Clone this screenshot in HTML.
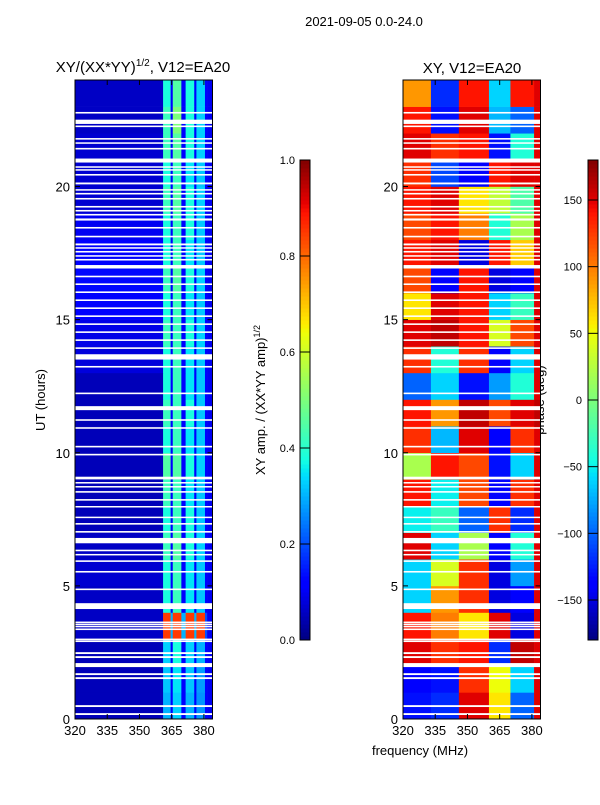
<!DOCTYPE html>
<html><head><meta charset="utf-8"><style>
body{margin:0;background:#fff;}
svg text{font-family:"Liberation Sans",sans-serif;fill:#000;}
</style></head><body>
<svg id="fig" width="600" height="800" xmlns="http://www.w3.org/2000/svg">
<rect width="600" height="800" fill="#fff"/>
<text x="364" y="26" font-size="13" text-anchor="middle">2021-09-05 0.0-24.0</text>
<text x="143" y="72" font-size="15" text-anchor="middle">XY/(XX*YY)<tspan font-size="10" dy="-6">1/2</tspan><tspan dy="6">, V12=EA20</tspan></text>
<text x="472" y="73" font-size="15" text-anchor="middle">XY, V12=EA20</text>
<text transform="translate(45,400) rotate(-90)" font-size="13" text-anchor="middle">UT (hours)</text>
<text x="420" y="755" font-size="13" text-anchor="middle">frequency (MHz)</text>
<text transform="translate(265,400) rotate(-90)" font-size="13" text-anchor="middle">XY amp. / (XX*YY amp)<tspan font-size="9" dy="-5">1/2</tspan></text>
<text transform="translate(544,400) rotate(-90)" font-size="13" text-anchor="middle">phase (deg)</text>
<g id="left"></g>
<g id="right"></g>
<g id="axes"></g>
</svg>
<script>
const ampBandEdges=[320,361,364.5,365.5,369.5,371.5,375.5,376.5,380.5,381.5,384];
const phaseBandEdges=[320,333,346,360,370,381,384];
const amp=[
[.05,.3,.12,.33,.12,.3,.12,.27,.12,.1],
[.05,.32,.12,.35,.12,.32,.12,.28,.12,.1],
[.05,.33,.12,.38,.12,.33,.12,.3,.12,.1],
[.06,.85,.3,.85,.3,.85,.3,.85,.2,.1],
[.06,.38,.12,.42,.12,.35,.12,.32,.12,.1],
[.07,.38,.12,.42,.12,.35,.12,.32,.12,.1],
[.06,.42,.12,.45,.12,.38,.12,.33,.12,.1],
[.05,.38,.12,.42,.12,.38,.12,.32,.12,.1],
[.05,.42,.12,.42,.12,.35,.12,.32,.12,.1],
[.05,.45,.12,.45,.12,.38,.12,.33,.12,.1],
[.05,.38,.12,.42,.12,.35,.12,.32,.12,.1],
[.05,.42,.12,.42,.12,.38,.12,.32,.12,.1],
[.05,.38,.12,.42,.12,.35,.12,.32,.12,.1],
[.08,.38,.12,.42,.12,.35,.12,.32,.12,.1],
[.09,.42,.12,.42,.12,.38,.12,.33,.12,.1],
[.12,.38,.12,.42,.12,.35,.12,.32,.12,.1],
[.13,.42,.12,.45,.12,.38,.12,.33,.12,.1],
[.12,.38,.12,.42,.12,.35,.12,.32,.12,.1],
[.1,.38,.12,.42,.12,.38,.12,.32,.12,.1],
[.07,.42,.12,.45,.12,.38,.12,.33,.12,.1],
[.07,.38,.12,.42,.12,.35,.12,.32,.12,.1],
[.07,.42,.12,.45,.12,.38,.12,.33,.12,.1],
[.06,.42,.12,.5,.12,.38,.12,.33,.12,.1],
[.06,.38,.12,.45,.12,.38,.12,.33,.12,.1]];
const phase=[
[-130,-120,150,60,-100,150],[-140,-130,130,50,-60,150],[150,130,140,-120,160,150],
[140,100,60,150,-150,150],[-60,90,130,-150,-140,150],[-60,40,130,-150,-80,150],
[150,-60,20,-140,-40,150],[-50,-30,-100,130,-120,150],[140,-50,120,-140,130,150],
[20,140,120,-130,-60,150],[130,-70,150,-140,130,150],[140,90,160,120,150,160],
[-100,-60,-130,-80,-40,150],[130,-40,130,-140,-60,150],[150,160,140,40,120,150],
[60,150,140,-60,-30,150],[120,-140,140,-150,-140,150],[140,150,-150,140,70,150],
[120,140,100,-40,20,150],[140,150,60,30,-20,150],[130,-110,-140,140,150,150],
[150,130,140,-130,-40,150],[140,-130,150,-70,-100,150],[90,-120,140,-60,140,150]];
const flags=[[0.15,0.22],[0.45,0.52],[1.5,1.57],[1.65,1.72],[1.95,2.1],[2.29,2.36],[2.44,2.51],[2.89,2.95],[2.96,3.02],[3.34,3.4],[3.45,3.5],[3.53,3.58],[3.6,3.66],[4.13,4.35],[4.84,4.9],[5.5,5.56],[5.9,5.96],[6.15,6.2],[6.3,6.36],[6.6,6.8],[7.0,7.06],[7.3,7.36],[7.55,7.6],[7.95,8.0],[8.2,8.26],[8.5,8.56],[8.7,8.75],[8.85,8.9],[9.0,9.1],[9.9,9.96],[10.2,10.26],[10.9,10.96],[11.2,11.26],[11.6,11.75],[12.2,12.26],[13.2,13.26],[13.5,13.7],[13.9,13.96],[14.2,14.26],[14.5,14.56],[14.8,14.86],[15.1,15.16],[15.4,15.46],[15.7,15.76],[16.0,16.06],[16.3,16.36],[16.59,16.65],[16.92,17.05],[17.22,17.28],[17.37,17.42],[17.52,17.58],[17.67,17.72],[17.79,17.86],[18.09,18.15],[18.42,18.48],[18.72,18.8],[18.91,18.97],[19.06,19.12],[19.21,19.27],[19.51,19.57],[19.7,19.76],[19.85,19.9],[20.08,20.15],[20.41,20.47],[20.6,20.65],[20.71,20.76],[20.9,21.05],[21.39,21.45],[21.61,21.66],[21.76,21.82],[22.23,22.29],[22.35,22.51],[22.74,22.8]];
const xTicks=[320,335,350,365,380];
const yTicks=[0,5,10,15,20];
const ampTicks=[0,0.2,0.4,0.6,0.8,1.0];
const phaseTicks=[-150,-100,-50,0,50,100,150];

const NS='http://www.w3.org/2000/svg';
const Y0=719,Y1=80,PY=(Y0-Y1)/24;
function yS(h){return Y0-h*PY;}
function mkX(x0,x1){return f=>x0+(f-320)*(x1-x0)/64;}
const xL=mkX(75,212.5), xR=mkX(403,540.5);
function interp(pts,v){for(let i=1;i<pts.length;i++){if(v<=pts[i][0]){const a=pts[i-1],b=pts[i];return a[1]+(b[1]-a[1])*(v-a[0])/(b[0]-a[0]);}}return pts[pts.length-1][1];}
function jet(v){v=Math.max(0,Math.min(1,v));
const r=interp([[0,0],[0.35,0],[0.66,1],[0.89,1],[1,0.5]],v);
const g=interp([[0,0],[0.125,0],[0.375,1],[0.64,1],[0.91,0],[1,0]],v);
const b=interp([[0,0.5],[0.11,1],[0.34,1],[0.65,0],[1,0]],v);
return `rgb(${Math.round(r*255)},${Math.round(g*255)},${Math.round(b*255)})`;}
function el(tag,attrs,parent){const e=document.createElementNS(NS,tag);for(const k in attrs)e.setAttribute(k,attrs[k]);parent.appendChild(e);return e;}
const L=document.getElementById('left'),R=document.getElementById('right'),A=document.getElementById('axes');
amp.forEach((row,h)=>row.forEach((v,j)=>{
 const x0=xL(ampBandEdges[j]),x1=xL(ampBandEdges[j+1]);
 const r=el('rect',{x:x0,y:yS(h+1),width:x1-x0+0.3,height:PY+0.3,fill:jet(v)},L);
 
 
}));
phase.forEach((row,h)=>row.forEach((v,j)=>{
 const x0=xR(phaseBandEdges[j]),x1=xR(phaseBandEdges[j+1]);
 const r=el('rect',{x:x0,y:yS(h+1),width:x1-x0+0.3,height:PY+0.3,fill:jet((v+180)/360)},R);
 
 
}));
[[L,xL],[R,xR]].forEach(([g,xs])=>flags.forEach(f=>{
 const r=el('rect',{x:xs(320),y:yS(f[1]),width:xs(384)-xs(320),height:Math.max(1.5,(f[1]-f[0])*PY),fill:'#fff'},g);
 
 
}));
function axes(xs,tag){
 const fr=el('rect',{x:xs(320),y:Y1,width:xs(384)-xs(320),height:Y0-Y1,fill:'none',stroke:'#000','stroke-width':1},A);
 
 
 xTicks.forEach(t=>{
  el('line',{x1:xs(t),x2:xs(t),y1:Y0,y2:Y0-5,stroke:'#000'},A);
  el('line',{x1:xs(t),x2:xs(t),y1:Y1,y2:Y1+5,stroke:'#000'},A);
  const tx=el('text',{x:xs(t),y:Y0+16,'font-size':13,'text-anchor':'middle'},A);tx.textContent=t;
  
  
 });
 yTicks.forEach(t=>{
  el('line',{x1:xs(320),x2:xs(320)+5,y1:yS(t),y2:yS(t),stroke:'#000'},A);
  el('line',{x1:xs(384),x2:xs(384)-5,y1:yS(t),y2:yS(t),stroke:'#000'},A);
  const tx=el('text',{x:xs(320)-5,y:yS(t)+5,'font-size':13,'text-anchor':'end'},A);tx.textContent=t;
  
  
 });
}
axes(xL,'amp');axes(xR,'phase');
function cbar(x,ticks,lo,hi,tag,labelX){
 const T=160,B=640;
 for(let i=0;i<120;i++){
  const v=i/120;
  el('rect',{x:x,y:B-(i+1)*(B-T)/120,width:10,height:(B-T)/120+0.5,fill:jet(v+0.004)},A);
 }
 const fr=el('rect',{x:x,y:T,width:10,height:B-T,fill:'none',stroke:'#000'},A);
 
 
 ticks.forEach(t=>{
  const y=B-(t-lo)/(hi-lo)*(B-T);
  el('line',{x1:x,x2:x+10,y1:y,y2:y,stroke:'#000'},A);
  const tx=el('text',{x:labelX,y:y+4,'font-size':11,'text-anchor':'end'},A);
  tx.textContent=(tag==='amp-colorbar')?t.toFixed(1):(t<0?'\u2212'+(-t):String(t));
  
  
 });
}
cbar(300,ampTicks,0,1,'amp-colorbar',295);
cbar(588,phaseTicks,-180,180,'phase-colorbar',582);
</script>
</body></html>
